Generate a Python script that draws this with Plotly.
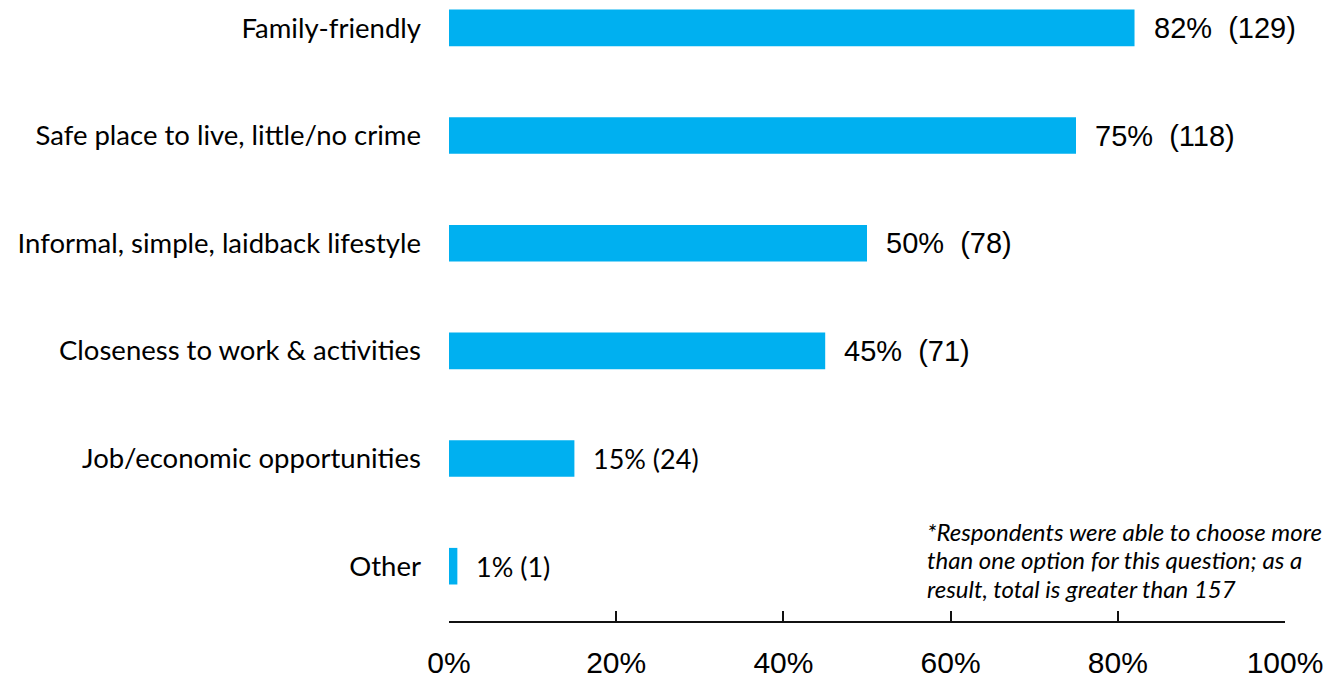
import plotly.graph_objects as go

# Survey responses, listed bottom-to-top as plotted
categories = [
    "Other",
    "Job/economic opportunities",
    "Closeness to work & activities",
    "Informal, simple, laidback lifestyle",
    "Safe place to live, little/no crime",
    "Family-friendly",
]
percents = [1, 15, 45, 50, 75, 82]
counts = [1, 24, 71, 78, 118, 129]
# top four labels use a larger font and a double space
label_style = ["small", "small", "large", "large", "large", "large"]

x_ticks = [0, 20, 40, 60, 80, 100]
x_tick_text = ["0%", "20%", "40%", "60%", "80%", "100%"]

footnote_lines = [
    "*Respondents were able to choose more",
    "than one option for this question; as a",
    "result, total is greater than 157",
]

BAR = "#00B0F0"
SANS = "Liberation Sans, Arial, sans-serif"
CAL = "Lato, Carlito, Calibri, sans-serif"

fig = go.Figure(go.Bar(
    y=categories,
    x=percents,
    orientation="h",
    marker=dict(color=BAR, line=dict(width=0)),
    hoverinfo="skip",
))

for cat, p, n, st in zip(categories, percents, counts, label_style):
    if st == "large":
        txt = f"{p}%&nbsp;&nbsp;({n})"
        font = dict(family=SANS, size=29, color="#000")
    else:
        txt = f"{p}% ({n})"
        font = dict(family=CAL, size=27, color="#000")
    fig.add_annotation(
        x=p, y=cat, text=txt, showarrow=False,
        xanchor="left", yanchor="middle", xshift=17, font=font,
    )

# footnote, one annotation per line for tight line spacing
for i, line in enumerate(footnote_lines):
    fig.add_annotation(
        xref="paper", yref="paper", x=0.569, y=(623 - 533 - 28.5 * i) / 623,
        xanchor="left", yanchor="middle", align="left",
        text=f"<i>{line}</i>", showarrow=False,
        font=dict(family=CAL, size=24, color="#000"),
    )

fig.update_layout(
    width=1333, height=679,
    margin=dict(l=449, r=48, t=0, b=56),
    paper_bgcolor="white", plot_bgcolor="white",
    bargap=0.66,
    showlegend=False,
    xaxis=dict(
        range=[0, 100], tickvals=x_ticks, ticktext=x_tick_text,
        showline=True, linecolor="#111", linewidth=1.5,
        ticks="inside", ticklen=10, tickcolor="#111", tickwidth=1.5,
        showgrid=False, zeroline=False,
        tickfont=dict(family=SANS, size=30, color="#000"),
        ticklabelstandoff=14,
    ),
    yaxis=dict(
        type="category", range=[-0.509, 5.259],
        showline=False, showgrid=False, zeroline=False, ticks="",
        tickfont=dict(family=CAL, size=27.5, color="#000"),
        ticklabelstandoff=27,
    ),
)

fig.write_html("out.html")
